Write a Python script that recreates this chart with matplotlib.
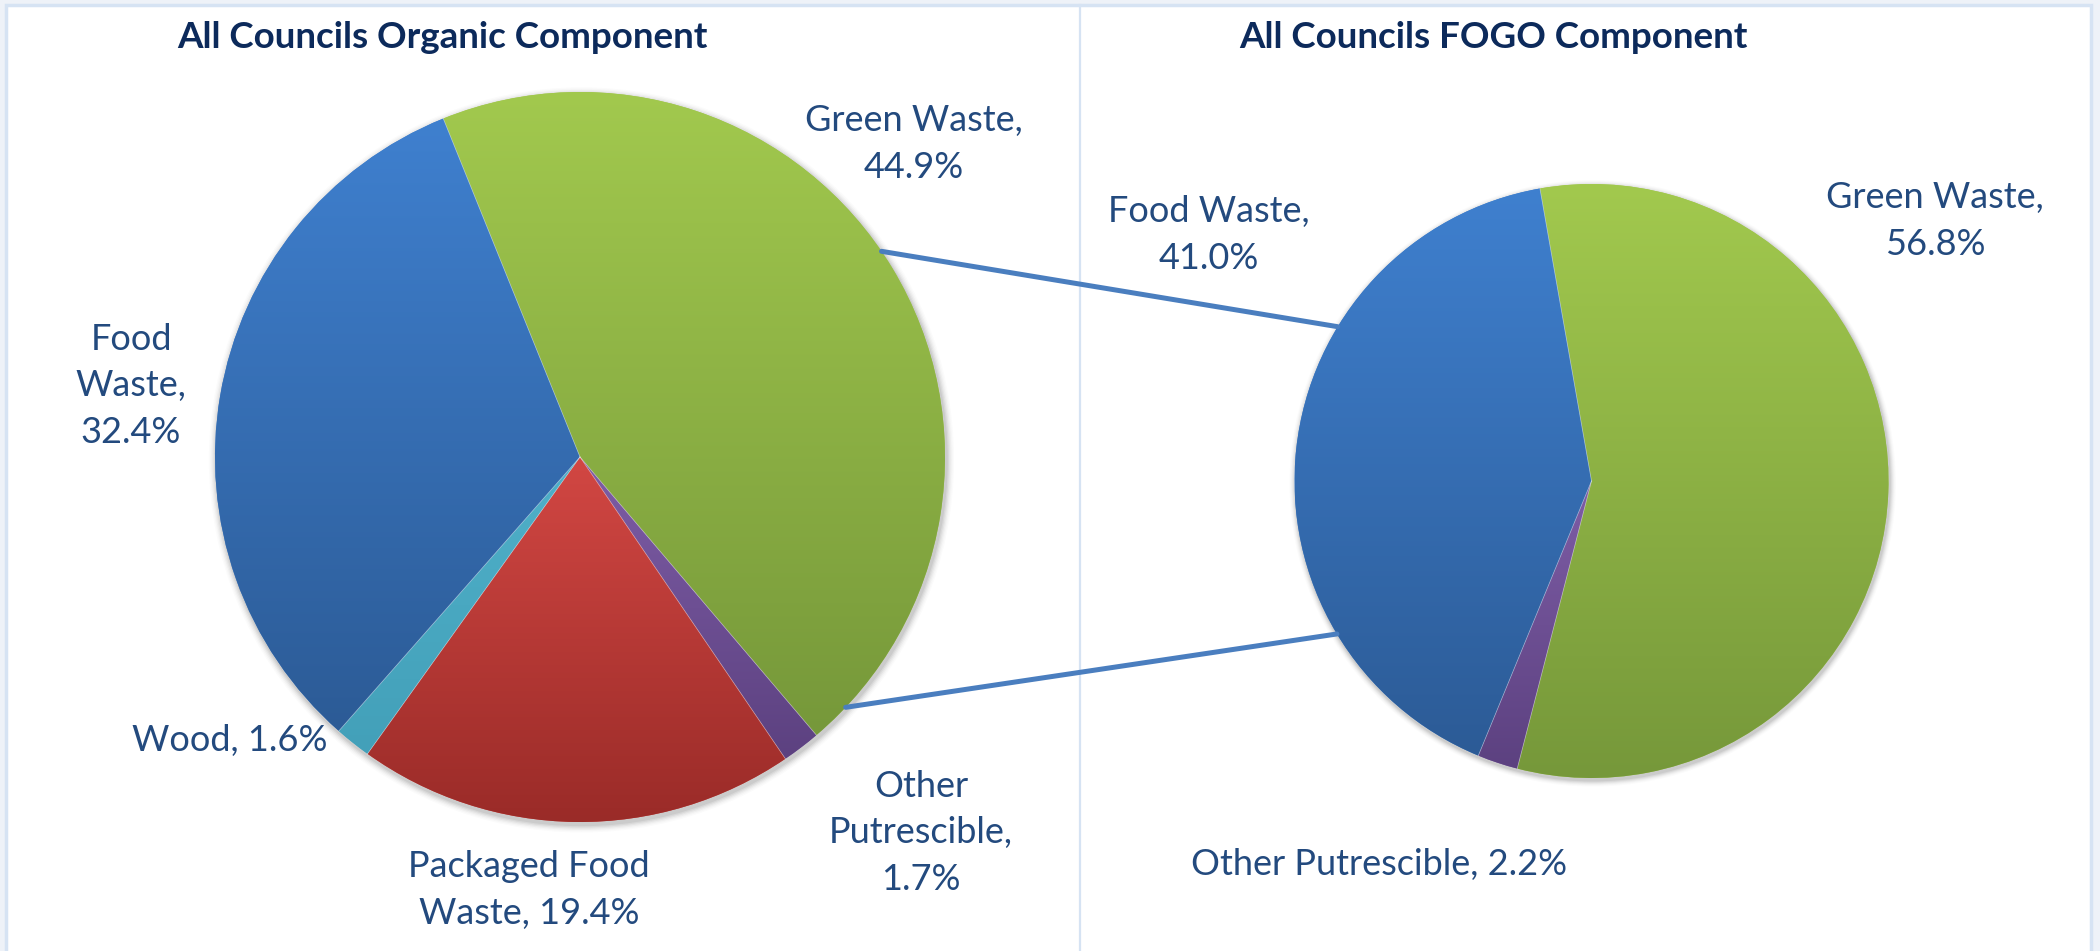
import numpy as np
import matplotlib
matplotlib.use("Agg")
import matplotlib.pyplot as plt
from matplotlib.patches import Rectangle, Circle, ConnectionPatch
from matplotlib.colors import to_rgb

# ---------------- data ----------------
organic_categories = ["Green Waste", "Other Putrescible", "Packaged Food Waste", "Wood", "Food Waste"]
organic_values = [44.9, 1.7, 19.4, 1.6, 32.4]
organic_label_text = ["Green Waste,\n{v}%", "Other\nPutrescible,\n{v}%", "Packaged Food\nWaste, {v}%",
                      "Wood, {v}%", "Food\nWaste,\n{v}%"]

fogo_categories = ["Green Waste", "Other Putrescible", "Food Waste"]
fogo_values = [56.8, 2.2, 41.0]
fogo_label_text = ["Green Waste,\n{v}%", "Other Putrescible, {v}%", "Food Waste,\n{v}%"]

titles = ["All Councils Organic Component", "All Councils FOGO Component"]

# gradient colours (top, bottom) per category
grad = {
    "Green Waste": ("#A2C94E", "#76983A"),
    "Food Waste": ("#3F80CF", "#2C5B96"),
    "Wood": ("#4FB0C9", "#43A0B9"),
    "Packaged Food Waste": ("#D24743", "#9A2B28"),
    "Other Putrescible": ("#7E5DA6", "#5C4180"),
}

W, H = 2100, 951
fig = plt.figure(figsize=(W / 100, H / 100), dpi=100)
fig.patch.set_facecolor("#EEF2F8")

def fx(x):
    return x / W

def fy(y):
    return 1 - y / H

# white chart area with light blue border
fig.add_artist(Rectangle((fx(6), fy(960)), fx(2091) - fx(6), fy(5) - fy(960),
                         transform=fig.transFigure, facecolor="white",
                         edgecolor="#D6E3F3", lw=2.5, zorder=0))
fig.add_artist(plt.Line2D([fx(1080), fx(1080)], [fy(5), fy(960)], transform=fig.transFigure,
                          color="#D6E3F3", lw=1.6, zorder=1))

label_color = "#234A7E"
title_color = "#0C2A5B"
plt.rcParams["font.family"] = ["Lato", "DejaVu Sans"]

def make_pie(cx, cy, r, values, cats, startangle):
    ax = fig.add_axes([fx(cx - r), fy(cy + r), 2 * r / W, 2 * r / H])
    ax.set_xlim(-1, 1)
    ax.set_ylim(-1, 1)
    ax.set_aspect("equal")
    ax.axis("off")
    ax.patch.set_alpha(0)
    # soft shadow
    for k, a in zip(range(6, 0, -1), [0.015, 0.02, 0.03, 0.04, 0.05, 0.06]):
        ax.add_patch(Circle((0.004, -0.008), 1 + k * 0.0035, color="#000000", alpha=a,
                            lw=0, zorder=0, clip_on=False))
    wedges, _ = ax.pie(values, startangle=startangle, counterclock=False, radius=1,
                       colors=[grad[c][0] for c in cats],
                       wedgeprops=dict(edgecolor="none", lw=0))
    for w, c in zip(wedges, cats):
        w.set_zorder(1)
        top, bot = np.array(to_rgb(grad[c][0])), np.array(to_rgb(grad[c][1]))
        t = np.linspace(0, 1, 256)[:, None]
        img = (top[None, :] * (1 - t) + bot[None, :] * t)[:, None, :]
        ext = w.get_path().get_extents()
        im = ax.imshow(img, extent=(ext.x0, ext.x1, ext.y0, ext.y1), origin="upper",
                       aspect="auto", zorder=2, interpolation="bilinear")
        im.set_clip_path(w)
    # faint slice separators
    for w in wedges:
        th = np.deg2rad(w.theta1)
        ax.plot([0, np.cos(th)], [0, np.sin(th)], color="white", lw=0.5, alpha=0.5, zorder=3)
    ax.set_xlim(-1, 1)
    ax.set_ylim(-1, 1)
    return ax

# left pie
axL = make_pie(580, 457, 365, organic_values, organic_categories, 112)
# right pie
axR = make_pie(1591.5, 481, 297, fogo_values, fogo_categories, 100)

# connector lines between pies
for aL, aR in [(34.3, 148.7), (-43.3, 211.0)]:
    p1 = (np.cos(np.deg2rad(aL)), np.sin(np.deg2rad(aL)))
    p2 = (np.cos(np.deg2rad(aR)), np.sin(np.deg2rad(aR)))
    con = ConnectionPatch(xyA=p1, coordsA=axL.transData, xyB=p2, coordsB=axR.transData,
                          color="#4A7EBF", lw=3.6, zorder=5)
    fig.add_artist(con)

# titles
fig.text(fx(442), fy(37), titles[0], ha="center", va="center", fontsize=26.5,
         fontweight="bold", color=title_color)
fig.text(fx(1493), fy(37), titles[1], ha="center", va="center", fontsize=26.5,
         fontweight="bold", color=title_color)

# data labels
org_pos = [(914, 144), (921, 833), (529, 890), (230, 740), (131, 386)]
for txt, v, (x, y) in zip(organic_label_text, organic_values, org_pos):
    fig.text(fx(x), fy(y), txt.format(v=f"{v:.1f}"), ha="center", va="center",
             fontsize=26, color=label_color, linespacing=1.5)

fogo_pos = [(1935, 221), (1379, 864), (1209, 235)]
for txt, v, (x, y) in zip(fogo_label_text, fogo_values, fogo_pos):
    fig.text(fx(x), fy(y), txt.format(v=f"{v:.1f}"), ha="center", va="center",
             fontsize=26, color=label_color, linespacing=1.5)

fig.savefig("out.png", dpi=100, facecolor=fig.get_facecolor())
